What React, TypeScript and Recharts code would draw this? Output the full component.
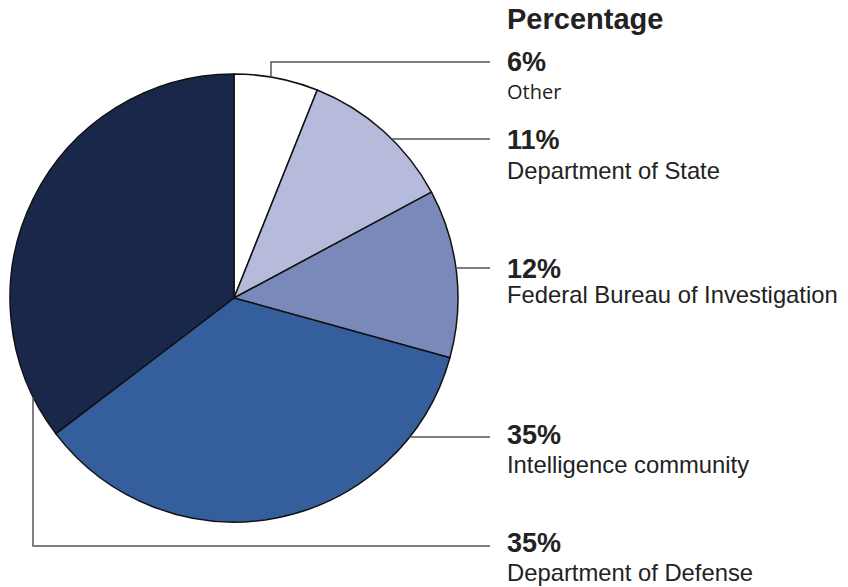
import { PieChart, Pie, Cell } from "recharts";

const categories = [
  "Other",
  "Department of State",
  "Federal Bureau of Investigation",
  "Intelligence community",
  "Department of Defense",
];
const percentages = [6, 11, 12, 35, 35];
const sliceColors = ["#ffffff", "#b6bbdb", "#7889ba", "#355f9c", "#19284a"];

const chartData = categories.map((name, i) => ({ name, value: percentages[i] }));

// label column layout
const LABEL_X = 507;
const LINE_END_X = 490;
const lineY = [62, 139, 268, 437, 546];
const pctBaseline = [71, 149, 278, 444, 552];
const nameBaseline = [99, 179, 303, 473, 581];
// slices whose leader leaves the pie vertically (x where it leaves)
const verticalLeaderX: Record<number, number> = { 0: 271, 4: 33 };

const TEXT = "#222222";
const LINE = "#555555";

function renderLabel(props: any) {
  const { cx, cy, outerRadius, index, value, name } = props;
  const r = outerRadius;
  const y = lineY[index];
  let points: string;
  if (verticalLeaderX[index] !== undefined) {
    const x0 = verticalLeaderX[index];
    const dy = Math.sqrt(r * r - (x0 - cx) * (x0 - cx));
    const y0 = y < cy ? cy - dy : cy + dy;
    points = `${x0},${y0} ${x0},${y} ${LINE_END_X},${y}`;
  } else {
    const x0 = cx + Math.sqrt(r * r - (y - cy) * (y - cy));
    points = `${x0},${y} ${LINE_END_X},${y}`;
  }
  const isOther = index === 0;
  return (
    <g key={`lbl-${index}`}>
      <polyline points={points} fill="none" stroke={LINE} strokeWidth={1.5} />
      <text
        x={LABEL_X}
        y={pctBaseline[index]}
        fill={TEXT}
        fontFamily="'Liberation Sans', Arial, sans-serif"
        fontWeight="bold"
        fontSize={27}
      >
        {value}%
      </text>
      <text
        x={LABEL_X}
        y={nameBaseline[index]}
        fill={TEXT}
        fontFamily={isOther ? "'Open Sans', sans-serif" : "'Liberation Sans', Arial, sans-serif"}
        fontSize={isOther ? 20 : 23.8}
      >
        {name}
      </text>
    </g>
  );
}

export default function App() {
  return (
    <div style={{ position: "absolute", left: 0, top: 0, width: 848, height: 587, background: "#fff" }}>
      <PieChart width={848} height={587} margin={{ top: 0, right: 0, bottom: 0, left: 0 }}>
        <Pie
          data={chartData}
          dataKey="value"
          nameKey="name"
          cx={234}
          cy={298}
          outerRadius={224}
          startAngle={90}
          endAngle={-270}
          stroke="#111"
          strokeWidth={1.5}
          label={renderLabel}
          labelLine={false}
          isAnimationActive={false}
        >
          {chartData.map((d, i) => (
            <Cell key={d.name} fill={sliceColors[i]} />
          ))}
        </Pie>
      </PieChart>
      <div
        style={{
          position: "absolute",
          left: 507,
          top: 2,
          fontFamily: "'Liberation Sans', Arial, sans-serif",
          fontWeight: "bold",
          fontSize: 29,
          color: TEXT,
          lineHeight: "34px",
        }}
      >
        Percentage
      </div>
    </div>
  );
}
